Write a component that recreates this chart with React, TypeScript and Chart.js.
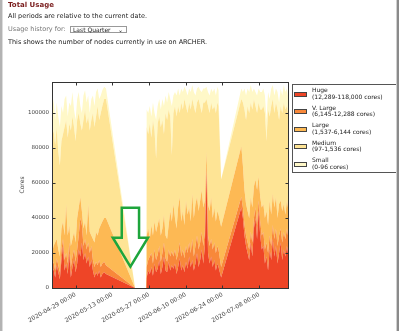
import React, { useEffect, useRef } from "react";
import { Chart, registerables } from "chart.js";

Chart.register(...registerables);

const FAMILY = "'DejaVu Sans', Verdana, sans-serif";

// x positions in days since 2020-04-20 00:00
const days = [
  0, 0.6, 1.2, 1.8, 2.4, 3.0, 3.6, 4.2, 4.8, 5.4, 6.0, 6.6, 7.2, 7.8, 8.4, 9.0, 9.6, 10.2, 10.8, 11.4,
  12.0, 12.6, 13.2, 13.8, 14.4, 15.0, 15.6, 16.2, 16.8, 17.4, 18.0, 18.6, 19.2, 19.9, 20.6,
  31.7, 35.9,
  36.1, 36.7, 37.3, 37.9, 38.5, 39.1, 39.7, 40.3, 40.9, 41.5, 42.1, 42.7, 43.3, 43.9, 44.5, 45.1, 45.7,
  46.3, 46.9, 47.5, 48.1, 48.7, 49.3, 49.9, 50.5, 51.1, 51.7, 52.3, 52.9, 53.5, 54.1, 54.7, 55.3, 55.9,
  56.5, 57.1, 57.7, 58.3, 58.9, 59.5, 60.1, 60.7, 61.3, 61.9, 62.5, 63.1, 63.5,
  64.5, 72.2,
  72.8, 73.4, 74.0, 74.6, 75.2, 75.8, 76.4, 77.0, 77.6, 78.2, 78.8, 79.4, 80.0, 80.6, 81.2, 81.8, 82.4,
  83.0, 83.6, 84.2, 84.8, 85.4, 86.0, 86.6, 87.2, 87.8, 88.4, 89.0, 89.6, 90.0,
];

const huge = [
  8000, 11000, 6000, 13000, 9000, 5000, 16000, 24000, 10000, 14000, 8000, 20000, 6000, 12000, 16000, 9000, 14000, 22000, 18000, 26000,
  16000, 20000, 14000, 18000, 12000, 16000, 10000, 6000, 9000, 7000, 10000, 6000, 8000, 9000, 8000,
  0, 0,
  6000, 10000, 8000, 12000, 7000, 14000, 9000, 11000, 16000, 8000, 12000, 18000, 10000, 9000, 15000, 10000, 13000,
  11000, 14000, 8000, 12000, 17000, 10000, 13000, 9000, 15000, 11000, 18000, 12000, 16000, 10000, 14000, 20000, 12000,
  16000, 22000, 14000, 24000, 66000, 20000, 14000, 18000, 12000, 16000, 10000, 14000, 12000,
  6000, 46000,
  40000, 30000, 24000, 20000, 16000, 26000, 18000, 34000, 40000, 28000, 44000, 30000, 22000, 24000, 14000, 18000, 10000,
  22000, 16000, 28000, 18000, 24000, 14000, 20000, 26000, 16000, 22000, 18000, 24000, 20000,
];

const vLarge = [
  4000, 4000, 4000, 4000, 4000, 4000, 6000, 4000, 6000, 6000, 6000, 6000, 6000, 6000, 6000, 6000, 8000, 8000, 22000, 10000,
  8000, 8000, 8000, 8000, 8000, 8000, 6000, 6000, 6000, 6000, 6000, 6000, 6000, 6000, 5000,
  0, 0,
  6000, 6000, 10000, 8000, 7000, 8000, 7000, 8000, 8000, 7000, 8000, 8000, 7000, 6000, 7000, 8000, 8000,
  7000, 8000, 8000, 8000, 9000, 8000, 9000, 8000, 9000, 9000, 8000, 8000, 12000, 8000, 10000, 10000, 10000,
  10000, 10000, 10000, 8000, 4000, 10000, 10000, 10000, 10000, 10000, 10000, 10000, 10000,
  6000, 6000,
  6000, 6000, 6000, 6000, 6000, 6000, 8000, 6000, 6000, 8000, 6000, 8000, 8000, 8000, 8000, 8000, 10000,
  8000, 8000, 8000, 10000, 10000, 10000, 10000, 8000, 10000, 10000, 10000, 10000, 10000,
];

const large = [
  8000, 9000, 16000, 11000, 9000, 9000, 12000, 10000, 14000, 28000, 16000, 10000, 12000, 10000, 10000, 11000, 18000, 16000, 12000, 8000,
  10000, 10000, 8000, 22000, 12000, 6000, 12000, 14000, 17000, 17000, 18000, 24000, 24000, 25000, 27000,
  0, 0,
  18000, 18000, 10000, 16000, 16000, 16000, 16000, 17000, 16000, 15000, 14000, 16000, 13000, 13000, 14000, 26000, 17000,
  30000, 18000, 18000, 26000, 26000, 20000, 22000, 19000, 26000, 22000, 20000, 18000, 26000, 22000, 24000, 22000, 22000,
  24000, 24000, 22000, 18000, 8000, 18000, 20000, 24000, 18000, 20000, 18000, 20000, 20000,
  23000, 29000,
  24000, 20000, 18000, 18000, 18000, 20000, 20000, 18000, 16000, 20000, 14000, 14000, 16000, 16000, 18000, 18000, 16000,
  20000, 18000, 18000, 18000, 18000, 16000, 18000, 16000, 18000, 16000, 14000, 16000, 16000,
];

const medium = [
  66000, 66000, 56000, 64000, 56000, 52000, 50000, 50000, 62000, 48000, 56000, 58000, 66000, 70000, 60000, 58000, 56000, 54000, 42000, 46000,
  62000, 64000, 64000, 50000, 58000, 66000, 72000, 66000, 66000, 74000, 62000, 64000, 66000, 68000, 68000,
  0, 0,
  62000, 54000, 66000, 50000, 66000, 52000, 42000, 58000, 58000, 62000, 62000, 46000, 70000, 68000, 66000, 54000, 38000,
  52000, 64000, 64000, 58000, 48000, 68000, 58000, 72000, 54000, 58000, 60000, 64000, 54000, 64000, 52000, 54000, 64000,
  54000, 44000, 60000, 56000, 30000, 56000, 56000, 54000, 62000, 58000, 62000, 62000, 62000,
  27000, 27000,
  36000, 46000, 48000, 60000, 60000, 54000, 56000, 50000, 42000, 44000, 42000, 50000, 56000, 56000, 60000, 40000, 66000,
  48000, 62000, 54000, 54000, 54000, 62000, 48000, 54000, 56000, 58000, 60000, 54000, 54000,
];

const small = [
  14000, 18000, 14000, 14000, 20000, 22000, 20000, 12000, 16000, 14000, 12000, 12000, 14000, 14000, 10000, 12000, 12000, 12000, 10000, 10000,
  14000, 11000, 12000, 12000, 10000, 12000, 10000, 12000, 14000, 10000, 12000, 10000, 9000, 7000, 6000,
  0, 0,
  10000, 12000, 10000, 12000, 10000, 10000, 22000, 10000, 10000, 10000, 12000, 16000, 10000, 10000, 10000, 10000, 28000,
  10000, 8000, 12000, 10000, 10000, 8000, 10000, 7000, 9000, 10000, 8000, 10000, 8000, 8000, 10000, 8000, 7000,
  9000, 12000, 8000, 8000, 7000, 8000, 10000, 8000, 10000, 10000, 10000, 9000, 9000,
  0, 6000,
  6000, 12000, 14000, 10000, 12000, 10000, 10000, 6000, 8000, 10000, 8000, 10000, 10000, 10000, 10000, 12000, 10000,
  10000, 10000, 8000, 10000, 8000, 10000, 10000, 10000, 10000, 10000, 10000, 10000, 10000,
];

const seriesNames = ["Huge", "V. Large", "Large", "Medium", "Small"];
const seriesRanges = [
  "(12,289-118,000 cores)",
  "(6,145-12,288 cores)",
  "(1,537-6,144 cores)",
  "(97-1,536 cores)",
  "(0-96 cores)",
];
const seriesColors = ["#ee4527", "#f8883a", "#fdb954", "#fee495", "#fff8c8"];

const tickDays = [9, 23, 37, 51, 65, 79];
const tickLabels = [
  "2020-04-29 00:00",
  "2020-05-13 00:00",
  "2020-05-27 00:00",
  "2020-06-10 00:00",
  "2020-06-24 00:00",
  "2020-07-08 00:00",
];
const yTicks = [0, 20000, 40000, 60000, 80000, 100000];

// annotation arrow in data units (days, cores)
const arrowCenterDay = 29.9;
const arrowShaftHalfDays = 3.3;
const arrowHeadHalfDays = 6.7;
const arrowTopCores = 45900;
const arrowBaseCores = 28700;
const arrowTipCores = 12200;

const framePlugin = {
  id: "frame",
  afterDraw(chart: any) {
    const { ctx, chartArea: a, scales } = chart;
    const xs = scales.x;
    const ys = scales.y;
    ctx.save();

    // green arrow
    const cx = xs.getPixelForValue(arrowCenterDay);
    const sl = xs.getPixelForValue(arrowCenterDay - arrowShaftHalfDays);
    const sr = xs.getPixelForValue(arrowCenterDay + arrowShaftHalfDays);
    const hl = xs.getPixelForValue(arrowCenterDay - arrowHeadHalfDays);
    const hr = xs.getPixelForValue(arrowCenterDay + arrowHeadHalfDays);
    const top = ys.getPixelForValue(arrowTopCores);
    const base = ys.getPixelForValue(arrowBaseCores);
    const tip = ys.getPixelForValue(arrowTipCores);
    ctx.beginPath();
    ctx.moveTo(sl, top);
    ctx.lineTo(sr, top);
    ctx.lineTo(sr, base);
    ctx.lineTo(hr, base);
    ctx.lineTo(cx, tip);
    ctx.lineTo(hl, base);
    ctx.lineTo(sl, base);
    ctx.closePath();
    ctx.strokeStyle = "#1ea53c";
    ctx.lineWidth = 2.5;
    ctx.lineJoin = "miter";
    ctx.stroke();

    // spines
    ctx.strokeStyle = "#333";
    ctx.lineWidth = 1;
    const L = Math.round(a.left) + 0.5;
    const R = Math.round(a.right) + 0.5;
    const T = Math.round(a.top) + 0.5;
    const B = Math.round(a.bottom) + 0.5;
    ctx.strokeRect(L, T, R - L, B - T);

    // inward ticks
    ctx.beginPath();
    tickDays.forEach((d) => {
      const px = Math.round(xs.getPixelForValue(d)) + 0.5;
      ctx.moveTo(px, B);
      ctx.lineTo(px, B - 3);
      ctx.moveTo(px, T);
      ctx.lineTo(px, T + 3);
    });
    yTicks.forEach((v) => {
      const py = Math.round(ys.getPixelForValue(v)) + 0.5;
      ctx.moveTo(L, py);
      ctx.lineTo(L + 3, py);
      ctx.moveTo(R, py);
      ctx.lineTo(R - 3, py);
    });
    ctx.stroke();

    // legend
    const lx = Math.round(a.right) + 4;
    const ly = Math.round(a.top) + 2;
    ctx.fillStyle = "#fff";
    ctx.fillRect(lx, ly, 130, 88);
    ctx.strokeStyle = "#555";
    ctx.strokeRect(lx + 0.5, ly + 0.5, 130, 88);
    ctx.font = `6px ${FAMILY}`;
    ctx.textBaseline = "middle";
    ctx.textAlign = "left";
    seriesNames.forEach((name, i) => {
      const cy = ly + 10 + i * 17.5;
      ctx.fillStyle = seriesColors[i];
      ctx.fillRect(lx + 2, Math.round(cy - 2.5), 13, 5);
      ctx.strokeStyle = "#444";
      ctx.strokeRect(lx + 2.5, Math.round(cy - 2.5) + 0.5, 12, 4);
      ctx.fillStyle = "#222";
      ctx.fillText(name, lx + 20, cy - 3.5);
      ctx.fillText(seriesRanges[i], lx + 20, cy + 3);
    });
    ctx.restore();
  },
};

export default function App() {
  const ref = useRef<HTMLCanvasElement>(null);

  useEffect(() => {
    const canvas = ref.current;
    if (!canvas) return;
    const layers = [huge, vLarge, large, medium, small];
    const chart = new Chart(canvas, {
      type: "line",
      data: {
        datasets: layers.map((vals, i) => ({
          label: seriesNames[i],
          data: days.map((d, j) => ({ x: d, y: vals[j] })),
          backgroundColor: seriesColors[i],
          borderColor: "rgba(0,0,0,0)",
          borderWidth: 0,
          pointRadius: 0,
          fill: i === 0 ? "origin" : "-1",
          tension: 0,
        })),
      },
      options: {
        responsive: false,
        animation: false,
        events: [],
        devicePixelRatio: 1,
        layout: { padding: { left: 15, top: 82, right: 112, bottom: 0 } },
        plugins: { legend: { display: false }, tooltip: { enabled: false } },
        scales: {
          x: {
            type: "linear",
            min: 0,
            max: 90,
            afterBuildTicks: (axis: any) => {
              axis.ticks = tickDays.map((v) => ({ value: v }));
            },
            afterFit: (axis: any) => {
              axis.height = 43;
            },
            grid: { display: false, drawTicks: false },
            border: { display: false },
            ticks: {
              autoSkip: false,
              minRotation: 30,
              maxRotation: 30,
              padding: 3,
              color: "#444",
              font: { size: 6, family: FAMILY },
              callback: (v: any) => {
                const k = tickDays.indexOf(Number(v));
                return k >= 0 ? tickLabels[k] : "";
              },
            },
          },
          y: {
            stacked: true,
            min: 0,
            max: 117700,
            afterBuildTicks: (axis: any) => {
              axis.ticks = yTicks.map((v) => ({ value: v }));
            },
            afterFit: (axis: any) => {
              axis.width = 37;
            },
            grid: { display: false, drawTicks: false },
            border: { display: false },
            ticks: {
              padding: 3,
              color: "#444",
              font: { size: 5.5, family: FAMILY },
              callback: (v: any) => String(v),
            },
            title: {
              display: true,
              text: "Cores",
              color: "#444",
              font: { size: 6, family: FAMILY },
              padding: { top: 4, bottom: 4 },
            },
          },
        },
      },
      plugins: [framePlugin],
    } as any);
    return () => chart.destroy();
  }, []);

  const line = { position: "absolute" as const, left: 8, lineHeight: 1, whiteSpace: "nowrap" as const };

  return (
    <div
      style={{
        position: "fixed",
        left: 0,
        top: 0,
        width: 400,
        height: 331,
        background: "#fff",
        overflow: "hidden",
        fontFamily: FAMILY,
      }}
    >
      <canvas
        ref={ref}
        width={400}
        height={331}
        style={{ position: "absolute", left: 0, top: 0, width: 400, height: 331 }}
      />
      <div style={{ ...line, top: 1.5, fontSize: 7, fontWeight: "bold", color: "#7a1d1d" }}>Total Usage</div>
      <div style={{ ...line, top: 12.5, fontSize: 6.5, color: "#222" }}>
        All periods are relative to the current date.
      </div>
      <div style={{ ...line, top: 25.5, fontSize: 6.5, color: "#777" }}>Usage history for:</div>
      <div
        style={{
          position: "absolute",
          left: 70,
          top: 26,
          width: 57,
          height: 7,
          border: "1px solid #999",
          boxSizing: "border-box",
          fontSize: 6,
          lineHeight: "6px",
          color: "#222",
          paddingLeft: 2,
          whiteSpace: "nowrap",
          background: "#fff",
        }}
      >
        Last Quarter
        <span style={{ position: "absolute", right: 3, top: 0, fontSize: 6 }}>⌄</span>
      </div>
      <div style={{ ...line, top: 39, fontSize: 6.5, color: "#222" }}>
        This shows the number of nodes currently in use on ARCHER.
      </div>
      <div style={{ position: "absolute", left: 0, top: 0, width: 2, height: 331, background: "#b3b3b3" }} />
      <div style={{ position: "absolute", left: 2, top: 0, width: 1, height: 331, background: "#dcdcdc" }} />
      <div style={{ position: "absolute", left: 396, top: 0, width: 1, height: 331, background: "#d0d0d0" }} />
      <div style={{ position: "absolute", left: 397, top: 0, width: 2, height: 331, background: "#8a8a8a" }} />
      <div style={{ position: "absolute", left: 399, top: 0, width: 1, height: 331, background: "#fff" }} />
    </div>
  );
}
